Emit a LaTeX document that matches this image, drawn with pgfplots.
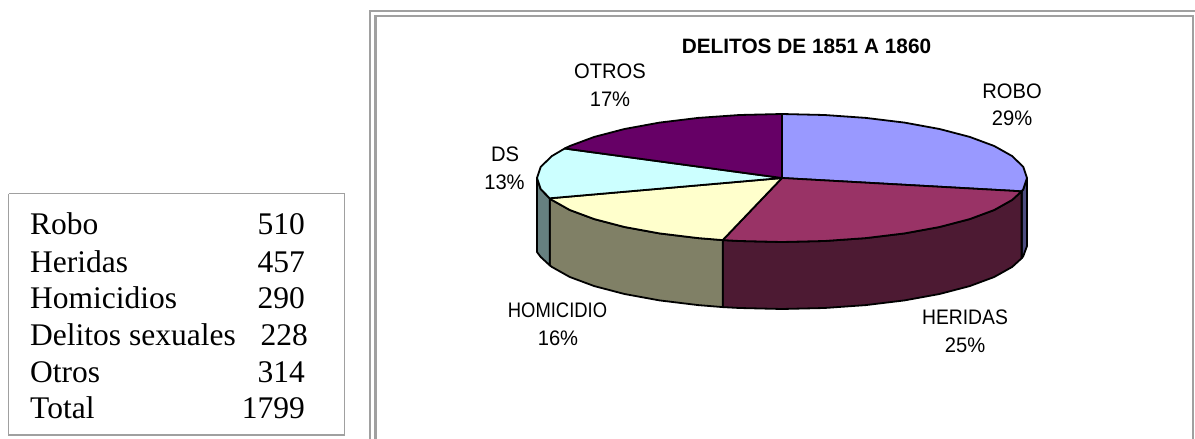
\documentclass[border=0pt]{standalone}
\usepackage{fontspec}
\setmainfont{Liberation Sans}
\newfontfamily\tnr{Liberation Serif}
\usepackage{graphicx}
\usepackage{pgfplots}
\pgfplotsset{compat=1.18}
\definecolor{cRobo}{HTML}{9999FF}
\definecolor{cHer}{HTML}{993366}
\definecolor{cHom}{HTML}{FFFFCC}
\definecolor{cDs}{HTML}{CCFFFF}
\definecolor{cOtr}{HTML}{660066}
\definecolor{sRobo}{HTML}{4D4D80}
\definecolor{sHer}{HTML}{4D1A33}
\definecolor{sHom}{HTML}{808066}
\definecolor{sDs}{HTML}{668080}
\definecolor{frameg}{HTML}{A0A0A0}
\tikzset{
  pie/.style={draw=black, line width=1.8pt, line join=round},
  lab/.style={anchor=base, font=\fontsize{21}{24}\selectfont, text=black},
  tb/.style={anchor=base west, inner xsep=0pt, font=\tnr\fontsize{31.5}{36}\selectfont, text=black},
  tn/.style={anchor=base east, inner xsep=0pt, font=\tnr\fontsize{31.5}{36}\selectfont, text=black},
}
\begin{document}
\begin{tikzpicture}
\begin{axis}[
  name=main,
  scale only axis, width=1195pt, height=439pt,
  xmin=0, xmax=1195, ymin=0, ymax=439, y dir=reverse,
  hide axis, clip=true,
]
% frame
\addplot[frameg, line width=2.2pt] coordinates {(370,439) (370,11) (1195,11)};
\addplot[frameg, line width=2.4pt] coordinates {(375.5,439) (375.5,16) (1193,16) (1193,439)};
% table box
\addplot[frameg, line width=1.4pt] coordinates {(8.5,193.5) (344.5,193.5) (344.5,435) (8.5,435) (8.5,193.5)};
% side faces
\addplot[pie, fill=sRobo] coordinates {(1027,178) (1023.3,189.1) (1021.6,191.3) (1021.6,258.3) (1023.3,256.1) (1027,246) (1027,178)};
\addplot[pie, fill=sHer] coordinates {(1021.6,191.3) (1012.2,199.9) (994.2,210) (969.7,219.1) (939.5,227) (904.5,233.4) (865.8,238.1) (824.5,241) (782,242) (739.5,241) (722.7,240.1)
  (722.7,307.1) (739.5,308) (782,309) (824.5,308) (865.8,305.1) (904.5,300.4) (939.5,294) (969.7,286.1) (994.2,277) (1012.2,266.9) (1021.6,258.3) (1021.6,191.3)};
\addplot[pie, fill=sHom] coordinates {(722.7,240.1) (698.2,238.1) (659.5,233.4) (624.5,227) (594.3,219.1) (569.8,210) (551.8,199.9) (549.7,198.3)
  (549.7,265.3) (551.8,266.9) (569.8,277) (594.3,286.1) (624.5,294) (659.5,300.4) (698.2,305.1) (722.7,307.1) (722.7,240.1)};
\addplot[pie, fill=sDs] coordinates {(549.7,198.3) (540.7,189.1) (537,178) (537,252) (540.7,257) (549.7,265.3) (549.7,198.3)};
% top faces
\addplot[pie, fill=cRobo] coordinates {(782,178) (782,114) (824.5,115) (865.8,117.9) (904.5,122.6) (939.5,129) (969.7,136.9) (994.2,146) (1012.2,156.1) (1023.3,166.9) (1027,178) (1023.3,189.1) (1021.6,191.3) (782,178)};
\addplot[pie, fill=cHer] coordinates {(782,178) (1021.6,191.3) (1012.2,199.9) (994.2,210) (969.7,219.1) (939.5,227) (904.5,233.4) (865.8,238.1) (824.5,241) (782,242) (739.5,241) (722.7,240.1) (782,178)};
\addplot[pie, fill=cHom] coordinates {(782,178) (722.7,240.1) (698.2,238.1) (659.5,233.4) (624.5,227) (594.3,219.1) (569.8,210) (551.8,199.9) (549.7,198.3) (782,178)};
\addplot[pie, fill=cDs] coordinates {(782,178) (549.7,198.3) (540.7,189.1) (537,178) (540.7,166.9) (551.8,156.1) (564.7,148.5) (782,178)};
\addplot[pie, fill=cOtr] coordinates {(782,178) (564.7,148.5) (569.8,146) (594.3,136.9) (624.5,129) (659.5,122.6) (698.2,117.9) (739.5,115) (782,114) (782,178)};
% chart texts
\node[anchor=base, font=\bfseries\fontsize{20.8}{24}\selectfont] at (axis cs:806.5,53) {DELITOS DE 1851 A 1860};
\node[lab] at (axis cs:1012,98) {\scalebox{.96}[1]{ROBO}};
\node[lab] at (axis cs:1012,125) {\scalebox{.96}[1]{29\%}};
\node[lab] at (axis cs:610,78) {\scalebox{.96}[1]{OTROS}};
\node[lab] at (axis cs:610,106) {\scalebox{.96}[1]{17\%}};
\node[lab] at (axis cs:505,161) {\scalebox{.96}[1]{DS}};
\node[lab] at (axis cs:504.5,189) {\scalebox{.96}[1]{13\%}};
\node[lab] at (axis cs:557.5,317) {\scalebox{.876}[1]{HOMICIDIO}};
\node[lab] at (axis cs:558,345) {\scalebox{.96}[1]{16\%}};
\node[lab] at (axis cs:965,324) {\scalebox{.92}[1]{HERIDAS}};
\node[lab] at (axis cs:965,352) {\scalebox{.96}[1]{25\%}};
% table texts
\node[tb] at (axis cs:30,234) {Robo};      \node[tn] at (axis cs:305,234) {510};
\node[tb] at (axis cs:30,272) {Heridas};   \node[tn] at (axis cs:305,272) {457};
\node[tb] at (axis cs:30,308) {Homicidios};\node[tn] at (axis cs:305,308) {290};
\node[tb] at (axis cs:30,345) {Delitos sexuales}; \node[tn] at (axis cs:308,345) {228};
\node[tb] at (axis cs:30,382) {Otros};     \node[tn] at (axis cs:305,382) {314};
\node[tb] at (axis cs:30,418) {Total};     \node[tn] at (axis cs:305,418) {1799};
\end{axis}
\pgfresetboundingbox
\path[use as bounding box] (main.south west) rectangle (main.north east);
\end{tikzpicture}
\end{document}
